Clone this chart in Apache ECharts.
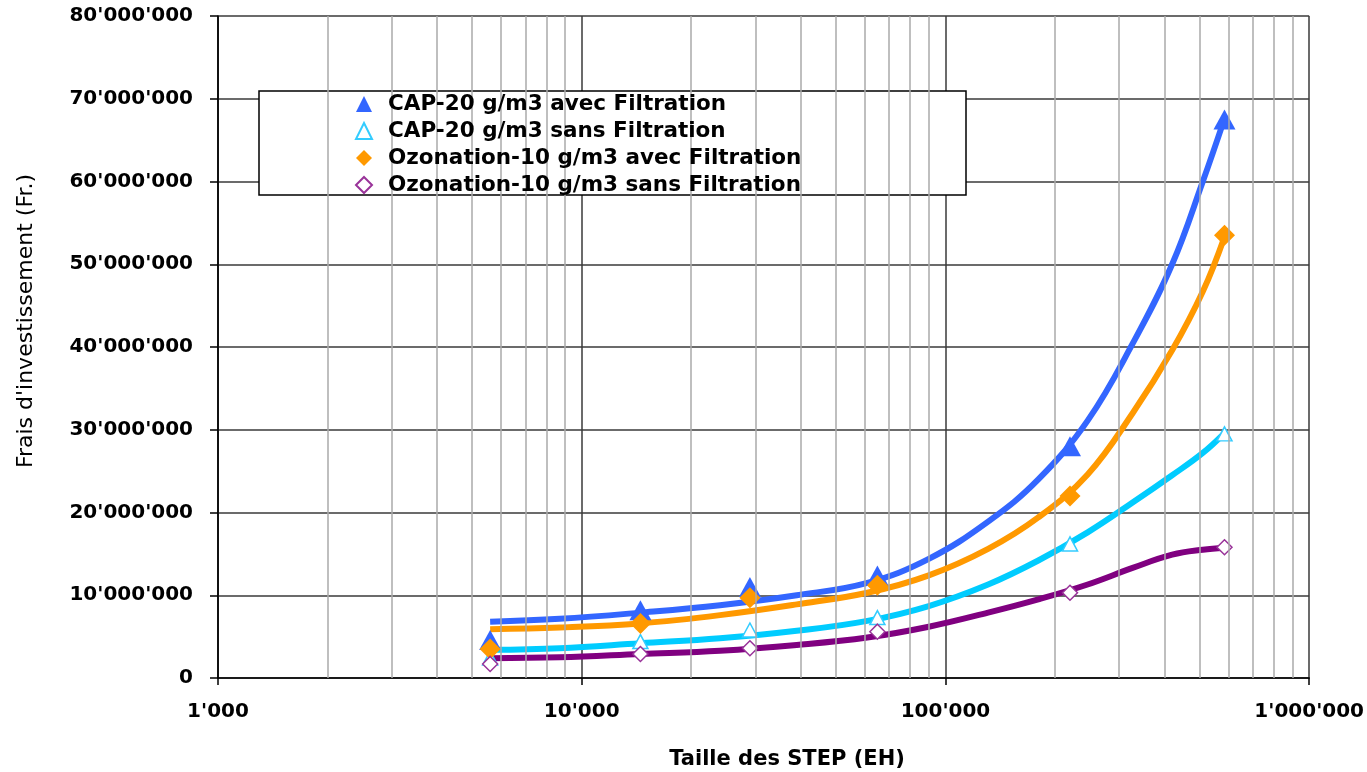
<!DOCTYPE html>
<html>
<head>
<meta charset="utf-8">
<script src="https://cdn.jsdelivr.net/npm/echarts@6/dist/echarts.min.js"></script>
<style>
* { margin: 0; padding: 0; }
body { background: #fff; }
</style>
</head>
<body>
<div id="chart" style="width: 1367px;height: 772px;"></div>
<script>
// taille des STEP (EH), points mesurés
var stepSizes = [5600, 14500, 29000, 65000, 220000, 585000];
var capAvec = [4600000, 8200000, 11000000, 12400000, 28000000, 67500000];
var capSans = [2400000, 4400000, 5800000, 7300000, 16200000, 29500000];
var ozoAvec = [3500000, 6600000, 9700000, 11200000, 22000000, 53500000];
var ozoSans = [1700000, 2900000, 3600000, 5600000, 10300000, 15800000];

// courbes de tendance
var trendX = [5600, 8700, 14500, 24000, 39000, 61000, 90000, 131000, 180000, 246000, 327000, 420000, 510000, 585000];
var capAvecTrend = [6800000, 7150000, 7900000, 8800000, 10000000, 11500000, 14400000, 18900000, 24000000, 31100000, 40400000, 50000000, 60000000, 67600000];
var capSansTrend = [3400000, 3600000, 4200000, 4800000, 5700000, 6900000, 8700000, 11300000, 14200000, 17600000, 21200000, 24500000, 27200000, 29600000];
var ozoAvecTrend = [5900000, 6100000, 6600000, 7600000, 8900000, 10300000, 12400000, 15600000, 19400000, 24600000, 32000000, 39600000, 46700000, 53300000];
var ozoSansTrend = [2400000, 2500000, 2900000, 3300000, 4000000, 4900000, 6200000, 7900000, 9500000, 11300000, 13300000, 14900000, 15500000, 15700000];

var seriesNames = [
  'CAP-20 g/m3 avec Filtration',
  'CAP-20 g/m3 sans Filtration',
  'Ozonation-10 g/m3 avec Filtration',
  'Ozonation-10 g/m3 sans Filtration'
];

function pairs(xs, ys) {
  return xs.map(function (x, i) { return [x, ys[i]]; });
}
function fmt(v) {
  return String(v).replace(/\B(?=(\d{3})+(?!\d))/g, "'");
}

// lignes secondaires de la grille log (2..9 par décade)
var minorLines = [];
[1000, 10000, 100000].forEach(function (d) {
  for (var k = 2; k <= 9; k++) minorLines.push({ xAxis: k * d });
});

function trend(ys, color) {
  return {
    type: 'line',
    data: pairs(trendX, ys),
    smooth: 0.4,
    showSymbol: false,
    silent: true,
    z: 2,
    lineStyle: { color: color, width: 6 }
  };
}

var fontB = 'DejaVu Sans';

var chart = echarts.init(document.getElementById('chart'));
chart.setOption({
  backgroundColor: '#fff',
  animation: false,
  grid: { left: 218, right: 55, top: 16, bottom: 94 },
  legend: {
    data: seriesNames,
    orient: 'vertical',
    left: 355,
    top: 93,
    padding: 0,
    itemGap: 5,
    itemWidth: 16,
    itemHeight: 16,
    z: 6,
    textStyle: {
      fontFamily: fontB, fontWeight: 'bold', fontSize: 21.5, color: '#000',
      padding: [0, 0, 0, 11]
    }
  },
  xAxis: {
    type: 'log',
    logBase: 10,
    min: 1000,
    max: 1000000,
    axisLine: { lineStyle: { color: '#000', width: 1.5 } },
    axisTick: { show: true, length: 7, lineStyle: { color: '#000', width: 1.5 } },
    axisLabel: {
      margin: 24,
      fontFamily: fontB, fontWeight: 'bold', fontSize: 20, color: '#000',
      formatter: function (v) { return fmt(v); }
    },
    splitLine: { show: true, lineStyle: { color: '#3a3a3a', width: 1.5 } }
  },
  yAxis: {
    type: 'value',
    min: 0,
    max: 80000000,
    interval: 10000000,
    axisLine: { show: true, lineStyle: { color: '#000', width: 1.5 } },
    axisTick: { show: true, length: 8, lineStyle: { color: '#000', width: 1.5 } },
    axisLabel: {
      margin: 25,
      fontFamily: fontB, fontWeight: 'bold', fontSize: 20, color: '#000',
      formatter: function (v) { return fmt(v); }
    },
    splitLine: { show: true, lineStyle: { color: '#3a3a3a', width: 1.5 } }
  },
  graphic: [
    {
      type: 'rect', z: 5,
      shape: { x: 259, y: 91, width: 707, height: 104 },
      style: { fill: '#fff', stroke: '#000', lineWidth: 1.5 }
    },
    {
      type: 'text', x: 787, y: 760,
      style: {
        text: 'Taille des STEP (EH)', fontFamily: fontB, fontWeight: 'bold', fontSize: 21,
        fill: '#000', align: 'center', verticalAlign: 'middle'
      }
    },
    {
      type: 'text', x: 26, y: 321, rotation: Math.PI / 2,
      style: {
        text: "Frais d'investissement (Fr.)", fontFamily: fontB, fontSize: 22,
        fill: '#000', align: 'center', verticalAlign: 'middle'
      }
    }
  ],
  series: [
    {
      type: 'line',
      data: [],
      silent: true,
      z: 1,
      markLine: {
        silent: true,
        symbol: 'none',
        label: { show: false },
        lineStyle: { color: '#aaaaaa', width: 1.5, type: 'solid' },
        data: minorLines
      }
    },
    trend(capAvecTrend, '#3366ff'),
    trend(ozoAvecTrend, '#ff9900'),
    trend(capSansTrend, '#00ccff'),
    trend(ozoSansTrend, '#800080'),
    {
      name: seriesNames[0], type: 'scatter', z: 3,
      data: pairs(stepSizes, capAvec),
      symbol: 'triangle', symbolSize: [22, 20],
      itemStyle: { color: '#3366ff', opacity: 1 }
    },
    {
      name: seriesNames[1], type: 'scatter', z: 3,
      data: pairs(stepSizes, capSans),
      symbol: 'triangle', symbolSize: [15, 14],
      itemStyle: { color: '#fff', borderColor: '#33ccff', borderWidth: 1.5, opacity: 1 }
    },
    {
      name: seriesNames[2], type: 'scatter', z: 3,
      data: pairs(stepSizes, ozoAvec),
      symbol: 'diamond', symbolSize: [21, 21],
      itemStyle: { color: '#ff9900', opacity: 1 }
    },
    {
      name: seriesNames[3], type: 'scatter', z: 3,
      data: pairs(stepSizes, ozoSans),
      symbol: 'diamond', symbolSize: [15, 15],
      itemStyle: { color: '#fff', borderColor: '#993399', borderWidth: 1.5, opacity: 1 }
    }
  ]
});
</script>
</body>
</html>
